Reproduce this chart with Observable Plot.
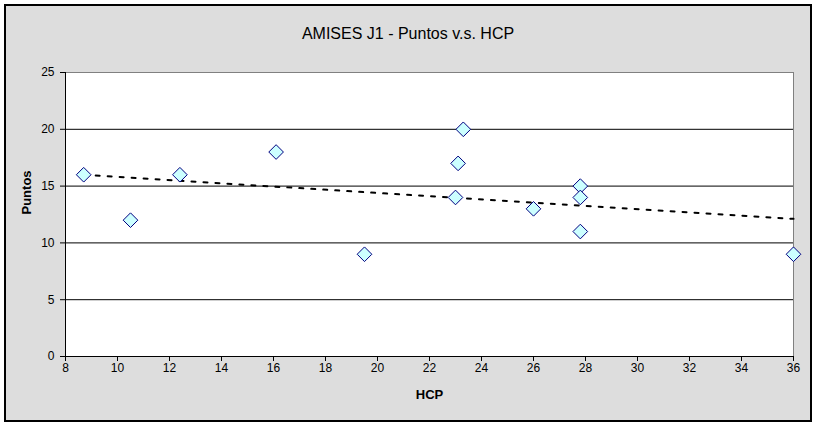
<!DOCTYPE html>
<html>
<head>
<meta charset="utf-8">
<script src="https://cdn.jsdelivr.net/npm/d3@7"></script>
<script src="https://cdn.jsdelivr.net/npm/@observablehq/plot@0.6"></script>
<style>
  html, body { margin: 0; padding: 0; background: #ffffff; }
  #wrap { position: relative; width: 817px; height: 426px; overflow: hidden; }
  #bg { position: absolute; left: 4px; top: 4px; width: 804px; height: 414px; border: 2px solid #000; background: #dddddd; }
  #chart { position: absolute; left: 0; top: 0; }
</style>
</head>
<body>
<div id="wrap"><div id="bg"></div><div id="chart"></div></div>
<script>
const title = "AMISES J1 - Puntos v.s. HCP";
const xLabel = "HCP";
const yLabel = "Puntos";
const hcp =    [8.7, 10.5, 12.4, 16.1, 19.5, 23.0, 23.1, 23.3, 26.0, 27.8, 27.8, 27.8, 36.0];
const puntos = [16,  12,   16,   18,   9,    14,   17,   20,   13,   15,   14,   11,   9];
const xTicks = [8, 10, 12, 14, 16, 18, 20, 22, 24, 26, 28, 30, 32, 34, 36];
const yTicks = [0, 5, 10, 15, 20, 25];
const gridY = [5, 10, 15, 20];

const data = hcp.map((x, i) => ({x, y: puntos[i]}));
const font = "'Liberation Sans', Arial, sans-serif";

const chart = Plot.plot({
  width: 817,
  height: 426,
  marginLeft: 65,
  marginRight: 24,
  marginTop: 72,
  marginBottom: 70,
  style: {background: "transparent", fontFamily: font, fontSize: "12px", color: "#000"},
  x: {domain: [8, 36]},
  y: {domain: [0, 25]},
  marks: [
    Plot.frame({fill: "white", stroke: "none"}),
    Plot.ruleY(gridY, {stroke: "#000", strokeWidth: 1}),
    Plot.ruleY([25], {stroke: "#808080", strokeWidth: 1}),
    Plot.ruleX([36], {stroke: "#808080", strokeWidth: 1}),
    Plot.ruleX([8], {stroke: "#000", strokeWidth: 1}),
    Plot.ruleY([0], {stroke: "#000", strokeWidth: 1}),
    Plot.axisX({ticks: xTicks, tickSize: 5, tickPadding: 2, label: null, fontSize: 12}),
    Plot.axisY({ticks: yTicks, tickSize: 5, tickPadding: 6, label: null, fontSize: 12}),
    Plot.linearRegressionY(data, {x: "x", y: "y", ci: 0, stroke: "#000", strokeWidth: 2, strokeDasharray: "4,8"}),
    Plot.dot(data, {x: "x", y: "y", symbol: "diamond2", r: 6.6, fill: "#ccffff", stroke: "#000080", strokeWidth: 1, fillOpacity: 1}),
    Plot.text([xLabel], {frameAnchor: "bottom", dy: 42, text: d => d, fontWeight: "bold", fontSize: 13}),
    Plot.text([yLabel], {frameAnchor: "left", dx: -38.5, rotate: -90, text: d => d, fontWeight: "bold", fontSize: 13}),
    Plot.text([title], {frameAnchor: "top", dx: -21.5, dy: -44.5, text: d => d, fontSize: 16})
  ]
});
document.getElementById("chart").appendChild(chart);
</script>
</body>
</html>
